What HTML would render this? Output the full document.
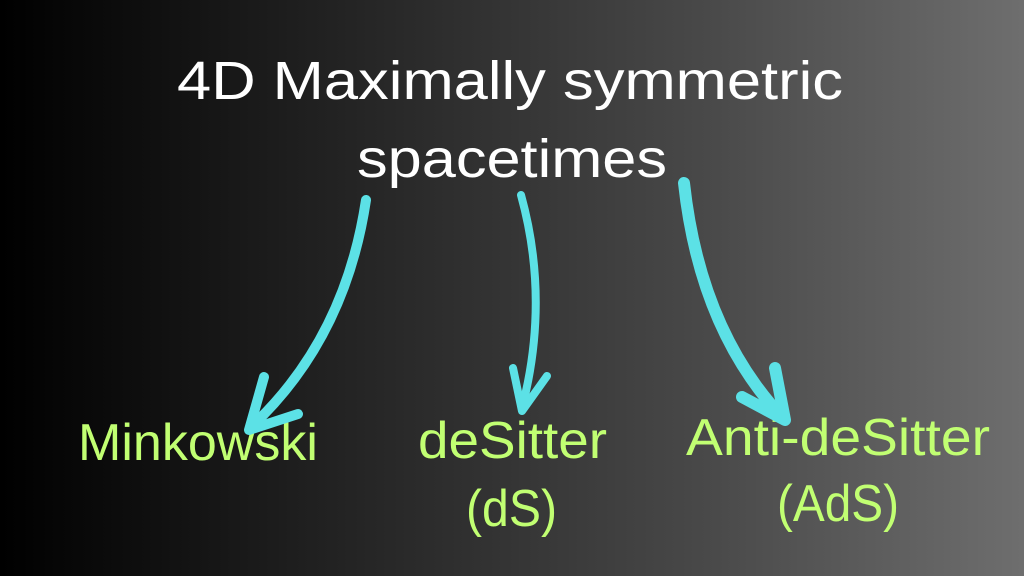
<!DOCTYPE html>
<html><head><style>
html,body{margin:0;padding:0}
body{width:1024px;height:576px;overflow:hidden;background:linear-gradient(to right,#000 0%,#2a2a2a 40%,#4a4a4a 70%,#6e6e6e 100%)}
</style></head><body>
<svg width="1024" height="576" viewBox="0 0 1024 576" xmlns="http://www.w3.org/2000/svg" style="position:absolute;left:0;top:0">
<g font-family="Liberation Sans, sans-serif" fill="#fff" font-size="54">
<text x="177" y="99" textLength="666" lengthAdjust="spacingAndGlyphs">4D Maximally symmetric</text>
<text x="357" y="177" textLength="310" lengthAdjust="spacingAndGlyphs">spacetimes</text>
</g>
<g font-family="Liberation Sans, sans-serif" fill="#c1ff72" font-size="52">
<text x="78" y="460" textLength="240" lengthAdjust="spacingAndGlyphs">Minkowski</text>
<text x="418" y="458" textLength="189" lengthAdjust="spacingAndGlyphs">deSitter</text>
<text x="466" y="526" textLength="91" lengthAdjust="spacingAndGlyphs">(dS)</text>
<text x="686" y="455" textLength="304" lengthAdjust="spacingAndGlyphs">Anti-deSitter</text>
<text x="777" y="521" textLength="122" lengthAdjust="spacingAndGlyphs">(AdS)</text>
</g>
<g fill="none" stroke="#5ce1e6" stroke-linecap="round" stroke-linejoin="round">
<path d="M366 200 Q345 340 250 428" stroke-width="10"/>
<path d="M264 377 L249 430 L298 414" stroke-width="10"/>
<path d="M521 195 Q550 300 522 408" stroke-width="8"/>
<path d="M513 368 L522 411 L547 376" stroke-width="8"/>
<path d="M684 183 Q700 330 783 418" stroke-width="12"/>
<path d="M775 368 L785 420 L742 397" stroke-width="12"/>
</g>
</svg>
</body></html>
